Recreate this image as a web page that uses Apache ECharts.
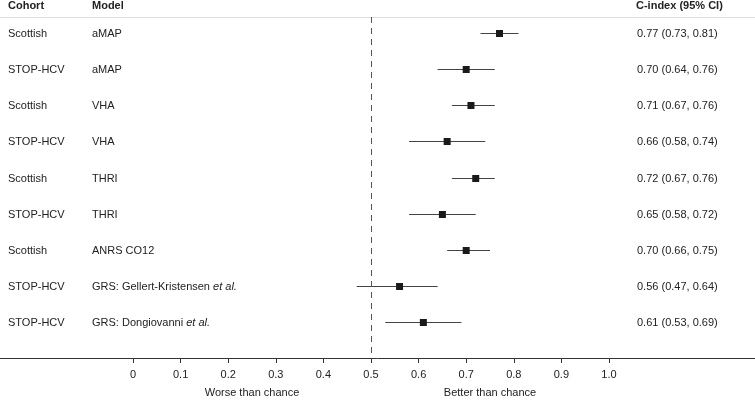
<!DOCTYPE html>
<html>
<head>
<meta charset="utf-8">
<script src="https://cdn.jsdelivr.net/npm/echarts@6/dist/echarts.min.js"></script>
<style>html,body{margin:0;padding:0;background:#fff}#c{width:755px;height:401px}</style>
</head>
<body>
<div id="c"></div>
<script>
var cohorts = ['Scottish','STOP-HCV','Scottish','STOP-HCV','Scottish','STOP-HCV','Scottish','STOP-HCV','STOP-HCV'];
var models = ['aMAP','aMAP','VHA','VHA','THRI','THRI','ANRS CO12','GRS: Gellert-Kristensen {i|et al.}','GRS: Dongiovanni {i|et al.}'];
var estimates = [0.77,0.70,0.71,0.66,0.72,0.65,0.70,0.56,0.61];
var lower = [0.73,0.64,0.67,0.58,0.67,0.58,0.66,0.47,0.53];
var upper = [0.81,0.76,0.76,0.74,0.76,0.72,0.75,0.64,0.69];
var ciText = ['0.77 (0.73, 0.81)','0.70 (0.64, 0.76)','0.71 (0.67, 0.76)','0.66 (0.58, 0.74)','0.72 (0.67, 0.76)','0.65 (0.58, 0.72)','0.70 (0.66, 0.75)','0.56 (0.47, 0.64)','0.61 (0.53, 0.69)'];
var xTicks = [0,0.1,0.2,0.3,0.4,0.5,0.6,0.7,0.8,0.9,1.0];
var sideLabels = [{v:0.25,t:'Worse than chance'},{v:0.75,t:'Better than chance'}];

var FONT = '"Liberation Sans", Arial, sans-serif';
var TXT = '#222';
var chart = echarts.init(document.getElementById('c'), null, {renderer:'canvas'});

var rows = estimates.map(function(e,i){ return [e, i, lower[i], upper[i]]; });

var option = {
  animation: false,
  textStyle: {fontFamily: FONT},
  grid: [
    {left: 133, width: 476, top: 17, bottom: 43, containLabel: false},
    {left: 0, right: 0, top: 17, bottom: 43, containLabel: false}
  ],
  xAxis: [
    {gridIndex: 0, type: 'value', position: 'bottom', min: 0, max: 1, interval: 0.1,
     axisLine: {show: false, onZero: false},
     axisTick: {show: true, length: 5, lineStyle: {color: '#333'}},
     splitLine: {show: false},
     axisLabel: {margin: 11, fontSize: 11, color: TXT, fontFamily: FONT,
       formatter: function(v){ var r = Math.round(v*10)/10; return xTicks.indexOf(r) < 0 ? '' : (r === 0 ? '0' : r.toFixed(1)); }}},
    {gridIndex: 1, type: 'value', position: 'bottom', min: 0, max: 1,
     axisLine: {show: true, onZero: false, lineStyle: {color: '#333', width: 1}},
     axisTick: {show: false}, axisLabel: {show: false}, splitLine: {show: false}}
  ],
  yAxis: [
    {gridIndex: 0, type: 'value', inverse: true, min: -0.45, max: 9.0, show: false},
    {gridIndex: 1, type: 'value', min: 0, max: 1, show: false}
  ],
  graphic: [
    {type: 'line', shape: {x1: 0, y1: 17.5, x2: 755, y2: 17.5}, style: {stroke: '#dcdcdc', lineWidth: 1}},
    {type: 'text', x: 8, y: 6, style: {text: 'Cohort', font: 'bold 11px ' + FONT, fill: TXT, textVerticalAlign: 'middle'}},
    {type: 'text', x: 92, y: 6, style: {text: 'Model', font: 'bold 11px ' + FONT, fill: TXT, textVerticalAlign: 'middle'}},
    {type: 'text', x: 636, y: 6, style: {text: 'C-index (95% CI)', font: 'bold 11px ' + FONT, fill: TXT, textVerticalAlign: 'middle'}}
  ],
  series: [
    {
      type: 'custom', xAxisIndex: 0, yAxisIndex: 0, clip: false,
      data: rows,
      renderItem: function(params, api){
        var i = api.value(1);
        var c = api.coord([api.value(0), i]);
        var lo = api.coord([api.value(2), i]);
        var hi = api.coord([api.value(3), i]);
        var y = Math.round(c[1]) + 0.5;
        var s = 7;
        return {type: 'group', children: [
          {type: 'line', shape: {x1: lo[0], y1: y, x2: hi[0], y2: y}, style: {stroke: '#444', lineWidth: 1}},
          {type: 'rect', shape: {x: c[0] - s/2, y: y - s/2, width: s, height: s}, style: {fill: '#1a1a1a'}},
          {type: 'text', x: 8, y: y, style: {text: cohorts[i], font: '11px ' + FONT, fill: TXT, textVerticalAlign: 'middle'}},
          {type: 'text', x: 92, y: y, style: {text: models[i], font: '11px ' + FONT, fill: TXT, textVerticalAlign: 'middle',
             rich: {i: {fontStyle: 'italic', fontSize: 11, fontFamily: FONT, fill: TXT}}}},
          {type: 'text', x: 637, y: y, style: {text: ciText[i], font: '11px ' + FONT, fill: TXT, textVerticalAlign: 'middle'}}
        ]};
      },
      markLine: {
        silent: true, symbol: 'none', label: {show: false},
        lineStyle: {color: '#555', type: [6, 5], width: 1},
        data: [{xAxis: 0.5}]
      }
    },
    {
      type: 'custom', xAxisIndex: 0, yAxisIndex: 0, clip: false,
      data: sideLabels.map(function(d){ return [d.v, 0]; }),
      renderItem: function(params, api){
        var p = api.coord([api.value(0), 0]);
        return {type: 'text', x: p[0], y: 393, style: {text: sideLabels[params.dataIndex].t, font: '11px ' + FONT, fill: TXT, textAlign: 'center', textVerticalAlign: 'middle'}};
      }
    }
  ]
};
chart.setOption(option);
</script>
</body>
</html>
